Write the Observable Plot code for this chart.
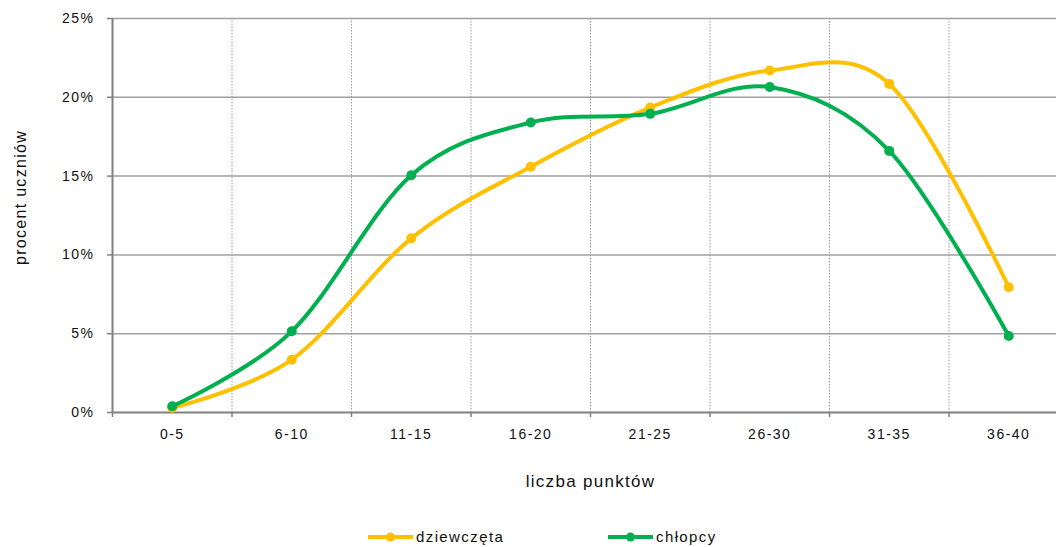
<!DOCTYPE html>
<html>
<head>
<meta charset="utf-8">
<script src="https://cdn.jsdelivr.net/npm/d3@7"></script>
<script src="https://cdn.jsdelivr.net/npm/@observablehq/plot@0.6"></script>
<style>
  html, body { margin: 0; padding: 0; background: #fff; }
  body { width: 1056px; height: 547px; overflow: hidden; position: relative; font-family: "Liberation Sans", Arial, sans-serif; }
  #chart svg { display: block; max-width: none !important; }
  #chart g[aria-label="y-axis tick label"] text,
  #chart g[aria-label="x-axis tick label"] text { letter-spacing: 1.5px; }
  #chart g[aria-label="text"] text { letter-spacing: 1.3px; }
  .legend { position: absolute; top: 528px; display: flex; align-items: center; font-size: 15px; letter-spacing: 1.4px; color: #111; }
  .legend svg { display: block; margin-right: 3px; }
</style>
</head>
<body>
<div id="chart"></div>
<div id="legend"></div>
<script>
const categories = ["0-5", "6-10", "11-15", "16-20", "21-25", "26-30", "31-35", "36-40"];
const dziewczeta = [0.3, 3.35, 11.05, 15.6, 19.35, 21.7, 20.85, 7.95];
const chlopcy = [0.4, 5.15, 15.05, 18.4, 18.95, 20.65, 16.6, 4.85];
const seriesNames = ["dziewczęta", "chłopcy"];
const seriesColors = ["#FFC000", "#00B050"];
const yTicks = [0, 5, 10, 15, 20, 25];
const xTitle = "liczba punktów";
const yTitle = "procent uczniów";

const n = categories.length;
const data = [];
[dziewczeta, chlopcy].forEach((vals, s) => {
  vals.forEach((v, i) => data.push({series: seriesNames[s], i: i + 0.5, v}));
});

const chart = Plot.plot({
  width: 1068,
  height: 505,
  marginLeft: 112,
  marginRight: 0,
  marginTop: 18,
  marginBottom: 93,
  style: {fontFamily: "'Liberation Sans', Arial, sans-serif", color: "#111", background: "#fff", maxWidth: "none"},
  x: {type: "linear", domain: [0, n], axis: null},
  y: {domain: [0, 25], axis: null},
  color: {domain: seriesNames, range: seriesColors},
  marks: [
    Plot.gridY({ticks: yTicks.slice(1), stroke: "#a0a0a0", strokeOpacity: 1, strokeWidth: 1.5}),
    Plot.gridX({ticks: d3.range(1, n), stroke: "#9a9a9a", strokeOpacity: 1, strokeWidth: 1, strokeDasharray: "1.5,1.5"}),
    Plot.axisY({ticks: yTicks, tickSize: 5, tickPadding: 13, tickFormat: d => d + "%", fontSize: 14, stroke: "#808080", strokeWidth: 1.5, label: null}),
    Plot.axisX({ticks: d3.range(0, n + 1), tickSize: 5, tickFormat: () => "", stroke: "#808080", strokeWidth: 1.5, label: null}),
    Plot.axisX({ticks: categories.map((c, i) => i + 0.5), tickSize: 0, tickPadding: 17, tickFormat: d => categories[Math.floor(d)], fontSize: 14, label: null}),
    Plot.ruleX([0], {stroke: "#808080", strokeWidth: 2}),
    Plot.ruleY([0], {stroke: "#808080", strokeWidth: 2}),
    Plot.line(data, {x: "i", y: "v", z: "series", stroke: "series", curve: "cardinal", strokeWidth: 4}),
    Plot.dot(data, {x: "i", y: "v", fill: "series", r: 5}),
    Plot.text([xTitle], {frameAnchor: "bottom", dy: 69, fontSize: 17, lineAnchor: "middle"}),
    Plot.text([yTitle], {frameAnchor: "left", textAnchor: "middle", dx: -92, dy: -18, rotate: -90, fontSize: 16, lineAnchor: "middle"})
  ]
});
document.getElementById("chart").appendChild(chart);

const legendLefts = [368, 608];
const legend = document.getElementById("legend");
seriesNames.forEach((name, s) => {
  const item = document.createElement("div");
  item.className = "legend";
  item.style.left = legendLefts[s] + "px";
  item.innerHTML = `<svg width="45" height="12"><line x1="0" y1="6" x2="45" y2="6" stroke="${seriesColors[s]}" stroke-width="4"/><circle cx="22.5" cy="6" r="4.5" fill="${seriesColors[s]}"/></svg><span>${name}</span>`;
  legend.appendChild(item);
});
</script>
</body>
</html>
